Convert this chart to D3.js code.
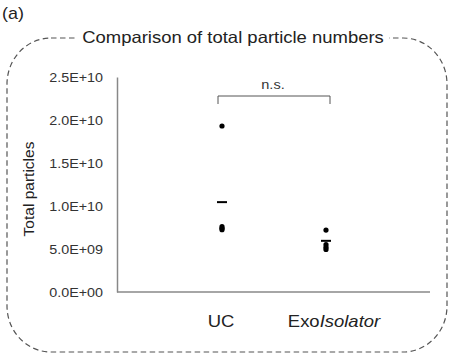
<!DOCTYPE html>
<html><head><meta charset="utf-8">
<script src="https://cdn.jsdelivr.net/npm/d3@7"></script>
<style>body{margin:0;background:#fff;}svg{display:block;font-family:Arial,"Liberation Sans",sans-serif;}</style>
</head><body>
<svg id="c" width="455" height="357"></svg>
<script>
const categories = ["UC", "ExoIsolator"];
const ucValues = [19.3e9, 7.6e9, 7.4e9, 7.25e9];
const exoValues = [7.2e9, 5.5e9, 5.2e9, 4.95e9];
const meanValues = [10.45e9, 5.95e9];
const yTicks = [0, 5e9, 10e9, 15e9, 20e9, 25e9];
const yTickLabels = ["0.0E+00", "5.0E+09", "1.0E+10", "1.5E+10", "2.0E+10", "2.5E+10"];

(function () {
const svg = d3.select("#c");
const mLeft = 117, mRight = 430, mTop = 77, mBottom = 292;
const SX = 1.12;
const y = d3.scaleLinear().domain([0, 25e9]).range([mBottom, mTop]);
const x = d3.scalePoint().domain(categories).range([222, 326]);

function label(px, py, size, anchor, txt) {
  return svg.append("text").attr("transform", `translate(${px},${py}) scale(${SX},1)`)
    .attr("text-anchor", anchor).attr("font-size", size).attr("fill", "#222").text(txt);
}

// (a)
label(2, 19, 16, "start", "(a)");

// dashed rounded box
svg.append("rect").attr("x", 7).attr("y", 38).attr("width", 440).attr("height", 314)
  .attr("rx", 44).attr("ry", 46).attr("fill", "none").attr("stroke", "#555")
  .attr("stroke-width", 1.2).attr("stroke-dasharray", "5.5,3.5");

// title with white background
svg.append("rect").attr("x", 77).attr("y", 28).attr("width", 312).attr("height", 20).attr("fill", "#fff");
label(233, 43, 16.5, "middle", "Comparison of total particle numbers");

// axes
const ax = svg.append("g").attr("transform", `translate(${mLeft},0)`)
  .call(d3.axisLeft(y).tickValues(yTicks).tickSize(0).tickPadding(14)
    .tickFormat((d, i) => yTickLabels[i]));
ax.select(".domain").attr("stroke", "#888").attr("stroke-width", 1.5);
ax.selectAll(".tick text").attr("font-size", 12.8).attr("fill", "#333")
  .attr("font-family", "Arial, 'Liberation Sans', sans-serif")
  .attr("x", null).attr("dy", "0.35em")
  .attr("transform", `translate(-14,0) scale(${SX},1)`);

svg.append("line").attr("x1", mLeft).attr("x2", mRight).attr("y1", y(0)).attr("y2", y(0))
  .attr("stroke", "#888").attr("stroke-width", 1.5);

// y label
svg.append("text").attr("transform", `translate(34,189) rotate(-90)`).attr("text-anchor", "middle")
  .attr("font-size", 15.5).attr("fill", "#222").text("Total particles");

// x labels
label(x("UC") - 1, 327, 16.5, "middle", "UC");
const xl = label(x("ExoIsolator") + 8, 327, 16.5, "middle", null);
xl.append("tspan").text("Exo");
xl.append("tspan").attr("font-style", "italic").text("Isolator");

// points
const series = [ucValues, exoValues];
series.forEach((vals, i) => {
  svg.append("g").selectAll("circle").data(vals).join("circle")
    .attr("cx", x(categories[i])).attr("cy", d => y(d)).attr("r", 2.6).attr("fill", "#000");
});
// mean lines
svg.append("g").selectAll("line").data(meanValues).join("line")
  .attr("x1", (d, i) => x(categories[i]) - 5).attr("x2", (d, i) => x(categories[i]) + 5)
  .attr("y1", d => y(d)).attr("y2", d => y(d)).attr("stroke", "#000").attr("stroke-width", 2);

// significance bracket
const by = 96;
svg.append("path").attr("d", `M${x("UC") - 4},${by + 8}V${by}H${x("ExoIsolator") + 4}V${by + 8}`)
  .attr("fill", "none").attr("stroke", "#555").attr("stroke-width", 1);
label(273, 89, 13, "middle", "n.s.").attr("fill", "#333");
})();
</script>
</body></html>
